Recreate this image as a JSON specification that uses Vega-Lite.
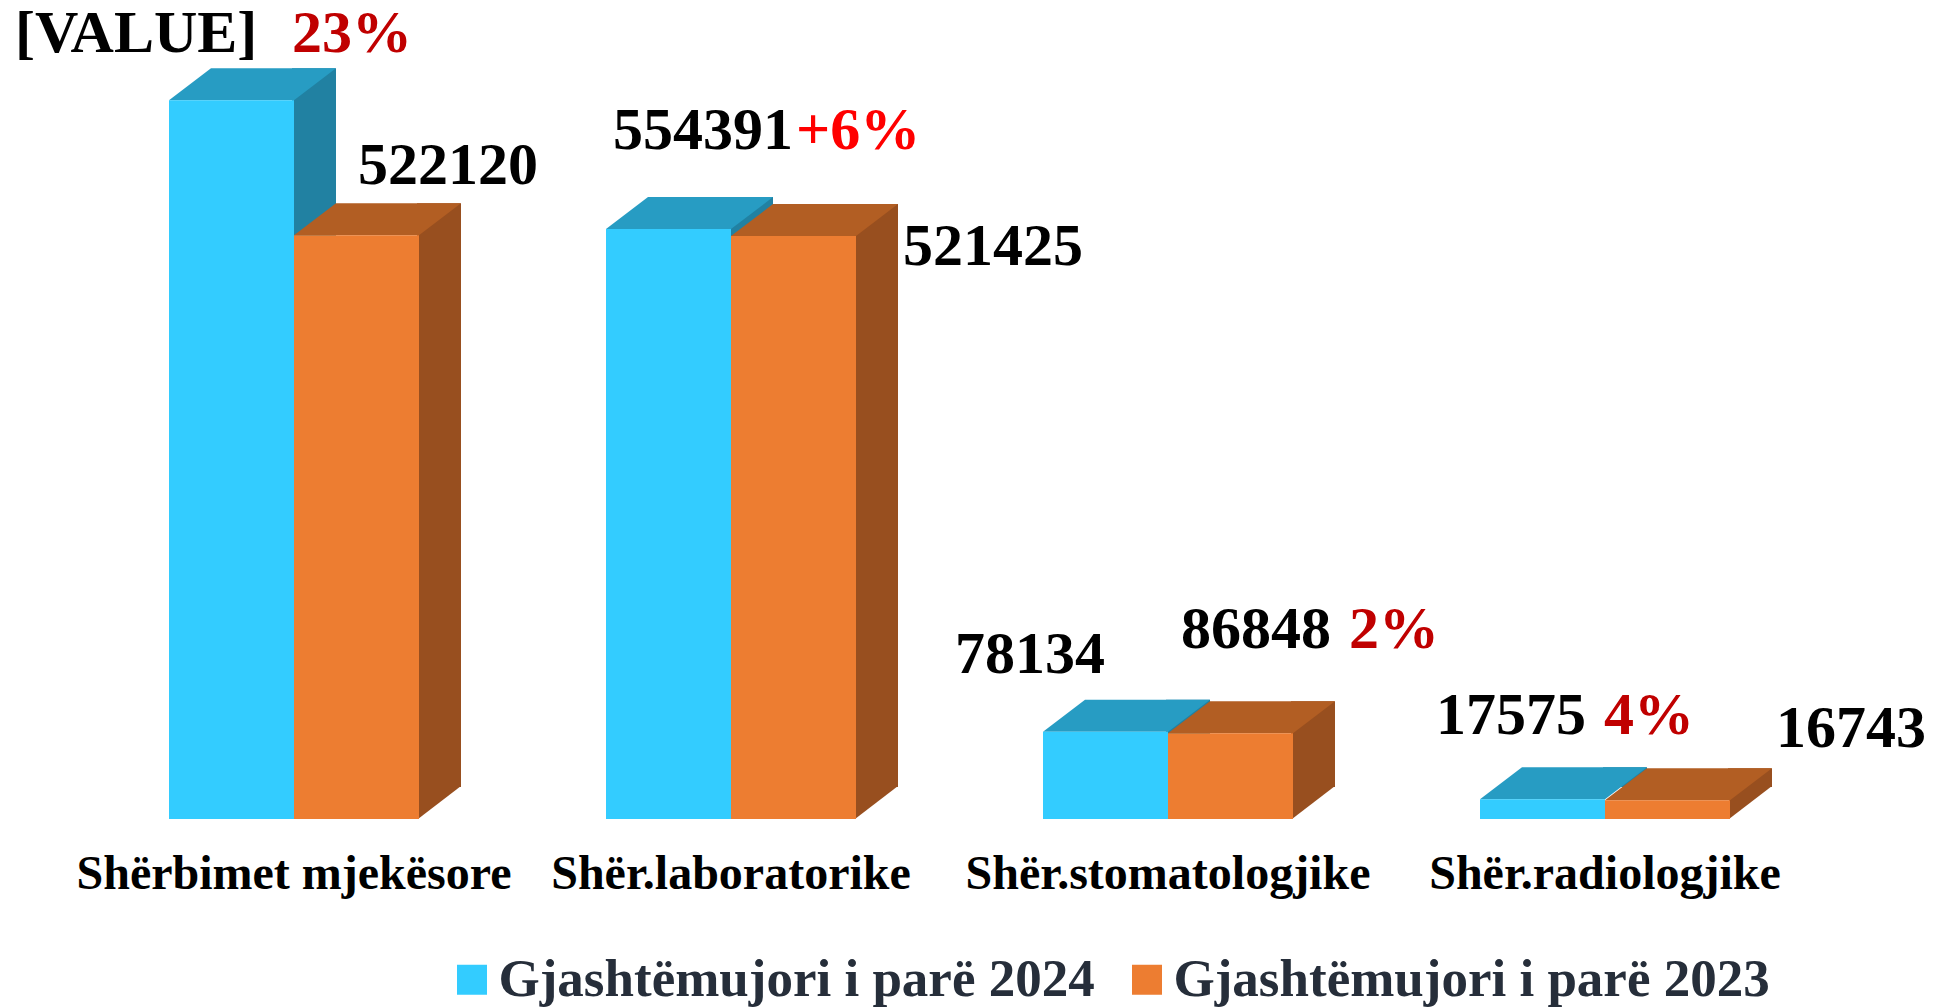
{
  "$schema": "https://vega.github.io/schema/vega-lite/v6.json",
  "autosize": {"type": "none"},
  "padding": {"left": 75.5, "top": 10, "right": 110.5, "bottom": 188},
  "width": 1748,
  "height": 809,
  "background": "white",
  "config": {
    "view": {"stroke": null},
    "text": {"font": "Liberation Serif", "fontWeight": "bold", "fontSize": 60, "align": "left", "baseline": "alphabetic"}
  },
  "data": {
    "values": [
      {"cat": "Shërbimet mjekësore", "series": "Gjashtëmujori i parë 2024", "value": 643000, "label": "[VALUE]", "change": "23%"},
      {"cat": "Shërbimet mjekësore", "series": "Gjashtëmujori i parë 2023", "value": 522120, "label": "522120", "change": ""},
      {"cat": "Shër.laboratorike", "series": "Gjashtëmujori i parë 2024", "value": 527700, "label": "554391", "change": "+6%"},
      {"cat": "Shër.laboratorike", "series": "Gjashtëmujori i parë 2023", "value": 521425, "label": "521425", "change": ""},
      {"cat": "Shër.stomatologjike", "series": "Gjashtëmujori i parë 2024", "value": 78134, "label": "78134", "change": ""},
      {"cat": "Shër.stomatologjike", "series": "Gjashtëmujori i parë 2023", "value": 76600, "label": "86848", "change": "2%"},
      {"cat": "Shër.radiologjike", "series": "Gjashtëmujori i parë 2024", "value": 17575, "label": "17575", "change": "4%"},
      {"cat": "Shër.radiologjike", "series": "Gjashtëmujori i parë 2023", "value": 16743, "label": "16743", "change": ""}
    ]
  },
  "encoding": {
    "x": {
      "field": "cat", "type": "nominal", "sort": null, "title": null,
      "scale": {"paddingInner": 0, "paddingOuter": 0},
      "axis": {"domain": false, "ticks": false, "grid": false, "labelAngle": 0, "labelFont": "Liberation Serif", "labelFontWeight": "bold", "labelFontSize": 48, "labelColor": "#000000", "labelPadding": 69, "labelBaseline": "alphabetic", "labelLimit": 1000}
    },
    "y": {"field": "value", "type": "quantitative", "scale": {"domain": [0, 723700], "nice": false, "zero": true}, "axis": null}
  },
  "layer": [
    {
      "transform": [{"filter": {"field": "series", "equal": "Gjashtëmujori i parë 2024"}}],
      "mark": {"type": "bar", "width": 44, "xOffset": 20, "yOffset": -32, "y2Offset": -32, "color": "#2181A2", "opacity": 1}
    },
    {
      "transform": [{"filter": {"field": "series", "equal": "Gjashtëmujori i parë 2024"}}],
      "mark": {"type": "point", "shape": "M-1.25,0L0,0L0.42,-0.32L-0.83,-0.32Z", "size": 40000, "filled": true, "opacity": 1, "color": "#279CC3", "strokeWidth": 0}
    },
    {
      "transform": [{"filter": {"field": "series", "equal": "Gjashtëmujori i parë 2024"}}],
      "mark": {"type": "bar", "width": 125, "xOffset": -62.5, "opacity": 1},
      "encoding": {
        "color": {
          "field": "series", "type": "nominal",
          "scale": {"domain": ["Gjashtëmujori i parë 2024", "Gjashtëmujori i parë 2023"], "range": ["#33CCFF", "#ED7D31"]},
          "legend": {"orient": "none", "direction": "horizontal", "legendX": 370, "legendY": 943, "title": null, "symbolType": "square", "symbolSize": 900, "symbolStrokeWidth": 0, "labelFont": "Liberation Serif", "labelFontWeight": "bold", "labelFontSize": 53, "labelColor": "#262E3A", "labelOffset": 0, "columnPadding": 25, "labelLimit": 1000, "padding": 0}
        }
      }
    },
    {
      "transform": [{"filter": {"field": "series", "equal": "Gjashtëmujori i parë 2023"}}],
      "mark": {"type": "bar", "width": 44, "xOffset": 145, "yOffset": -32, "y2Offset": -32, "color": "#984F1F", "opacity": 1}
    },
    {
      "transform": [{"filter": {"field": "series", "equal": "Gjashtëmujori i parë 2023"}}],
      "mark": {"type": "point", "shape": "M1.24,-0.33L1.24,0L1.67,-0.33Z", "size": 40000, "filled": true, "opacity": 1, "color": "#984F1F", "strokeWidth": 0},
      "encoding": {"y": {"datum": 0}}
    },
    {
      "transform": [{"filter": {"field": "series", "equal": "Gjashtëmujori i parë 2023"}}],
      "mark": {"type": "point", "shape": "M0,0L1.25,0L1.67,-0.32L0.42,-0.32Z", "size": 40000, "filled": true, "opacity": 1, "color": "#B25E23", "strokeWidth": 0}
    },
    {
      "transform": [{"filter": {"field": "series", "equal": "Gjashtëmujori i parë 2023"}}],
      "mark": {"type": "bar", "width": 125, "xOffset": 62.5, "opacity": 1},
      "encoding": {"color": {"field": "series", "type": "nominal"}}
    },
    {"transform": [{"filter": {"field": "label", "equal": "[VALUE]"}}], "mark": {"type": "text", "dx": -279, "dy": -48, "color": "#000000"}, "encoding": {"text": {"field": "label"}}},
    {"transform": [{"filter": {"field": "label", "equal": "[VALUE]"}}], "mark": {"type": "text", "dx": -2, "dy": -48, "color": "#C00000"}, "encoding": {"text": {"field": "change"}}},
    {"transform": [{"filter": {"field": "label", "equal": "522120"}}], "mark": {"type": "text", "dx": 64, "dy": -51, "color": "#000000"}, "encoding": {"text": {"field": "label"}}},
    {"transform": [{"filter": {"field": "label", "equal": "554391"}}], "mark": {"type": "text", "dx": -118, "dy": -80, "color": "#000000"}, "encoding": {"text": {"field": "label"}}},
    {"transform": [{"filter": {"field": "label", "equal": "554391"}}], "mark": {"type": "text", "dx": 65, "dy": -80, "color": "#FF0000"}, "encoding": {"text": {"field": "change"}}},
    {"transform": [{"filter": {"field": "label", "equal": "521425"}}], "mark": {"type": "text", "dx": 172, "dy": 29, "color": "#000000"}, "encoding": {"text": {"field": "label"}}},
    {"transform": [{"filter": {"field": "label", "equal": "78134"}}], "mark": {"type": "text", "dx": -213, "dy": -59, "color": "#000000"}, "encoding": {"text": {"field": "label"}}},
    {"transform": [{"filter": {"field": "label", "equal": "86848"}}], "mark": {"type": "text", "dx": 13, "dy": -85, "color": "#000000"}, "encoding": {"text": {"field": "label"}}},
    {"transform": [{"filter": {"field": "label", "equal": "86848"}}], "mark": {"type": "text", "dx": 181, "dy": -85, "color": "#C00000"}, "encoding": {"text": {"field": "change"}}},
    {"transform": [{"filter": {"field": "label", "equal": "17575"}}], "mark": {"type": "text", "dx": -169, "dy": -65, "color": "#000000"}, "encoding": {"text": {"field": "label"}}},
    {"transform": [{"filter": {"field": "label", "equal": "17575"}}], "mark": {"type": "text", "dx": -1, "dy": -65, "color": "#C00000"}, "encoding": {"text": {"field": "change"}}},
    {"transform": [{"filter": {"field": "label", "equal": "16743"}}], "mark": {"type": "text", "dx": 171, "dy": -53, "color": "#000000"}, "encoding": {"text": {"field": "label"}}}
  ]
}
